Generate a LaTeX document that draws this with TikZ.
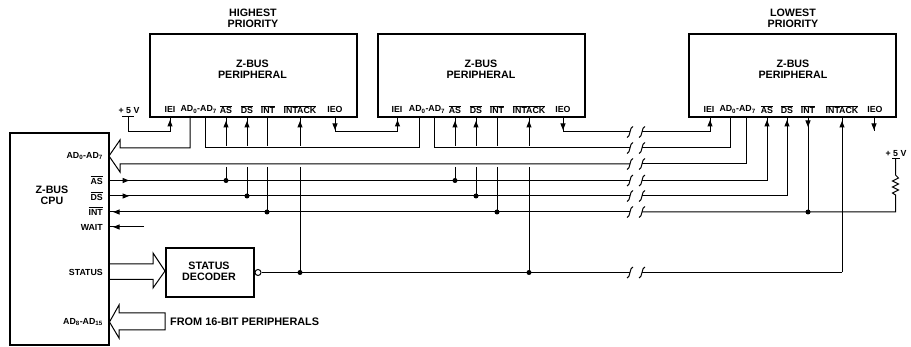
\documentclass[tikz,border=0pt]{standalone}
\usepackage{fontspec}
\setmainfont{Liberation Sans}
\usetikzlibrary{arrows.meta,decorations.markings,calc}
\newcommand{\ovl}[1]{$\overline{\hbox{#1}}$}
\tikzset{
  wire/.style={line width=1pt,line join=miter},
  box/.style={draw,line width=2.1pt,anchor=north west,inner sep=0pt},
  periph/.style={box,minimum width=207pt,minimum height=83pt},
  big/.style={font=\bfseries\fontsize{10.7}{11}\selectfont,inner sep=0pt},
  pin/.style={font=\bfseries\fontsize{8.8}{9}\selectfont,inner sep=0pt},
  pinr/.style={pin,anchor=east},
  dot/.style={circle,fill=black,inner sep=0pt,minimum size=5pt},
  tipat/.style={postaction={decorate,decoration={markings,mark=at position #1 with {\arrow{Triangle[length=6.5pt,width=5pt]}}}}},
  brks/.pic={\draw[line width=1pt] (-3,5.5) .. controls (0.5,5.5) and (-0.5,-5.5) .. (3,-5.5);}
}
\begin{document}
\begin{tikzpicture}[x=1pt,y=-1pt]
\useasboundingbox (0,0) rectangle (911,347);
% boxes
\node[periph] (p1) at (149,33) {};
\node[periph] (p2) at (377,33) {};
\node[periph] (p3) at (688,33) {};
\node[box,minimum width=99pt,minimum height=212pt] (cpu) at (9,132) {};
\node[box,minimum width=88pt,minimum height=49pt] (dec) at (165,247) {};
% titles
\node[big] (t1a) at (253,12.5) {HIGHEST};
\node[big] (t1b) at (253,23.5) {PRIORITY};
\node[big] (t3a) at (793,12.5) {LOWEST};
\node[big] (t3b) at (793,23.5) {PRIORITY};
\node[big] (z1) at (252.5,64) {Z-BUS};
\node[big] (z1b) at (252.5,75) {PERIPHERAL};
\node[big] (z2) at (481,64) {Z-BUS};
\node[big] (z2b) at (481,75) {PERIPHERAL};
\node[big] (z3) at (793,64) {Z-BUS};
\node[big] (z3b) at (793,75) {PERIPHERAL};
\node[big] (zc) at (52,190) {Z-BUS};
\node[big] (zcb) at (52,201) {CPU};
\node[big] (sd) at (209,266) {STATUS};
\node[big] (sdb) at (209,277) {DECODER};
\node[big,anchor=west,font=\bfseries\fontsize{10.9}{11}\selectfont] (from) at (170,321.7) {FROM 16-BIT PERIPHERALS};
% pin labels, peripheral 1
\node[pin] (l1a) at (170,109.5) {IEI};
\node[pin] (l1b) at (198.7,109.5) {AD\textsubscript{0}-AD\textsubscript{7}};
\node[pin] (l1c) at (226,109.5) {\ovl{AS}};
\node[pin] (l1d) at (247,109.5) {\ovl{DS}};
\node[pin] (l1e) at (268,109.5) {\ovl{INT}};
\node[pin] (l1f) at (300,109.5) {\ovl{INTACK}};
\node[pin] (l1g) at (335,109.5) {IEO};
% peripheral 2
\node[pin] (l2a) at (397,109.5) {IEI};
\node[pin] (l2b) at (427,109.5) {AD\textsubscript{0}-AD\textsubscript{7}};
\node[pin] (l2c) at (455,109.5) {\ovl{AS}};
\node[pin] (l2d) at (476,109.5) {\ovl{DS}};
\node[pin] (l2e) at (497,109.5) {\ovl{INT}};
\node[pin] (l2f) at (529,109.5) {\ovl{INTACK}};
\node[pin] (l2g) at (563,109.5) {IEO};
% peripheral 3
\node[pin] (l3a) at (709,109.5) {IEI};
\node[pin] (l3b) at (737.6,109.5) {AD\textsubscript{0}-AD\textsubscript{7}};
\node[pin] (l3c) at (767,109.5) {\ovl{AS}};
\node[pin] (l3d) at (787,109.5) {\ovl{DS}};
\node[pin] (l3e) at (808,109.5) {\ovl{INT}};
\node[pin] (l3f) at (842,109.5) {\ovl{INTACK}};
\node[pin] (l3g) at (875,109.5) {IEO};
% CPU labels
\node[pinr] (c1) at (103,156) {AD\textsubscript{0}-AD\textsubscript{7}};
\node[pinr] (c2) at (103,180) {\ovl{AS}};
\node[pinr] (c3) at (103,196) {\ovl{DS}};
\node[pinr] (c4) at (103,211) {\ovl{INT}};
\node[pinr] (c5) at (103,227.5) {WAIT};
\node[pinr] (c6) at (103,272) {STATUS};
\node[pinr] (c7) at (103,322) {AD\textsubscript{8}-AD\textsubscript{15}};
\node[pin] (v1) at (129,111) {+ 5 V};
\node[pin] (v2) at (896,153.5) {+ 5 V};
% rows
\coordinate (rI) at (0,132);
\coordinate (rA) at (0,148);
\coordinate (rB) at (0,164);
\coordinate (rAS) at (0,180.5);
\coordinate (rDS) at (0,196);
\coordinate (rINT) at (0,212);
\coordinate (rW) at (0,227);
\coordinate (rST) at (0,272.5);
\coordinate (bL) at (630,0);
\coordinate (bR) at (642,0);
% pins on box edges
\foreach \n/\a/\b/\c/\d/\e/\f/\g in {1/170/190/205/226/247/267/300,2/397.5/419/434/455/476/497/529,3/710/730/746/767/787/808/842}{
  \coordinate (p\n iei) at (\a,116);
  \coordinate (p\n ad) at (\b,116);
  \coordinate (p\n ae) at (\c,116);
  \coordinate (p\n as) at (\d,116);
  \coordinate (p\n ds) at (\e,116);
  \coordinate (p\n int) at (\f,116);
  \coordinate (p\n ack) at (\g,116);
}
\coordinate (p1ieo) at (335,116);
\coordinate (p2ieo) at (563,116);
\coordinate (p3ieo) at (874,116);
\coordinate (p3end) at (874,131);
% daisy chain
\coordinate (v1b) at (128,117);
\draw[wire] (122,117) -- (134,117);
\draw[wire,tipat=-4pt] (v1b) -- (v1b |- rI) -- (p1iei |- rI) -- (p1iei);
\draw[wire,tipat=-4pt,tipat=14pt] (p1ieo) -- (p1ieo |- rI) -- (p2iei |- rI) -- (p2iei);
\draw[wire,tipat=14pt] (p2ieo) -- (p2ieo |- rI) -- (bL |- rI);
\draw[wire,tipat=-4pt] (bR |- rI) -- (p3iei |- rI) -- (p3iei);
\draw[wire,tipat=-1pt] (p3ieo) -- (p3end);
% AD bus
\draw[wire] (p1ad) -- (p1ad |- rA) -- (120,148) -- (120,140) -- (109,156) -- (120,172) -- (120,164) -- (bL |- rB);
\draw[wire] (bR |- rB) -- (p3ae |- rB) -- (p3ae);
\draw[wire] (p1ae) -- (p1ae |- rA) -- (p2ad |- rA) -- (p2ad);
\draw[wire] (p2ae) -- (p2ae |- rA) -- (bL |- rA);
\draw[wire] (bR |- rA) -- (p3ad |- rA) -- (p3ad);
% rows from CPU
\draw[wire,tipat=19pt] (cpu.east |- rAS) -- (bL |- rAS);
\draw[wire,tipat=-4pt] (bR |- rAS) -- (p3as |- rAS) -- (p3as);
\draw[wire,tipat=19pt] (cpu.east |- rDS) -- (bL |- rDS);
\draw[wire,tipat=-4pt] (bR |- rDS) -- (p3ds |- rDS) -- (p3ds);
\draw[wire,tipat=-3pt] (bL |- rINT) -- (cpu.east |- rINT);
\draw[wire] (bR |- rINT) -- (895.5,212) -- (895.5,195) -- (892.5,193) -- (898.5,190) -- (892.5,187) -- (898.5,184) -- (892.5,181) -- (898.5,178) -- (895.5,175) -- (895.5,159);
\draw[wire] (892,159) -- (900,159);
\draw[wire,tipat=-3pt] (144,227) -- (cpu.east |- rW);
% breaks
\foreach \r in {rI,rA,rB,rAS,rDS,rINT,rST}{
  \pic at (bL |- \r) {brks};
  \pic at (bR |- \r) {brks};
}
% peripheral 1 and 2 stubs
\foreach \n in {1,2}{
  \draw[wire,tipat=-5pt] (p\n as |- 0,146) -- (p\n as);
  \draw[wire,tipat=-5pt] (p\n ds |- 0,146) -- (p\n ds);
  \draw[wire] (p\n int |- 0,146) -- (p\n int);
  \draw[wire,tipat=-5pt] (p\n ack |- 0,146) -- (p\n ack);
  \draw[wire] (p\n as |- 0,167) -- (p\n as |- rAS);
  \draw[wire] (p\n ds |- 0,167) -- (p\n ds |- rDS);
  \draw[wire] (p\n int |- 0,167) -- (p\n int |- rINT);
  \draw[wire] (p\n ack |- 0,167) -- (p\n ack |- rST);
  \node[dot] (da\n) at (p\n as |- rAS) {};
  \node[dot] (db\n) at (p\n ds |- rDS) {};
  \node[dot] (dc\n) at (p\n int |- rINT) {};
  \node[dot] (dd\n) at (p\n ack |- rST) {};
}
% peripheral 3 INT and INTACK
\draw[wire,tipat=-1pt] (p3int) -- ($(p3int)+(0,12)$);
\draw[wire] (p3int) -- (p3int |- rINT);
\node[dot] (dc3) at (p3int |- rINT) {};
\draw[wire,tipat=-5pt] (p3ack |- rST) -- (p3ack);
% decoder output
\node[circle,draw,line width=1pt,fill=white,inner sep=0pt,minimum size=6pt] (bub) at (258,272.5) {};
\draw[wire] (bub.east) -- (bL |- rST);
\draw[wire] (bR |- rST) -- (p3ack |- rST);
% status arrow
\draw[wire] (cpu.east |- 0,264) -- (153,264) -- (153,253) -- (dec.west |- 0,271) -- (153,288) -- (153,279.5) -- (cpu.east |- 0,279.5);
% AD8-15 arrow
\draw[wire] (165,313) -- (119,313) -- (119,305) -- (109.5,322) -- (119,338) -- (119,330) -- (165,330) -- cycle;
\end{tikzpicture}
\end{document}
